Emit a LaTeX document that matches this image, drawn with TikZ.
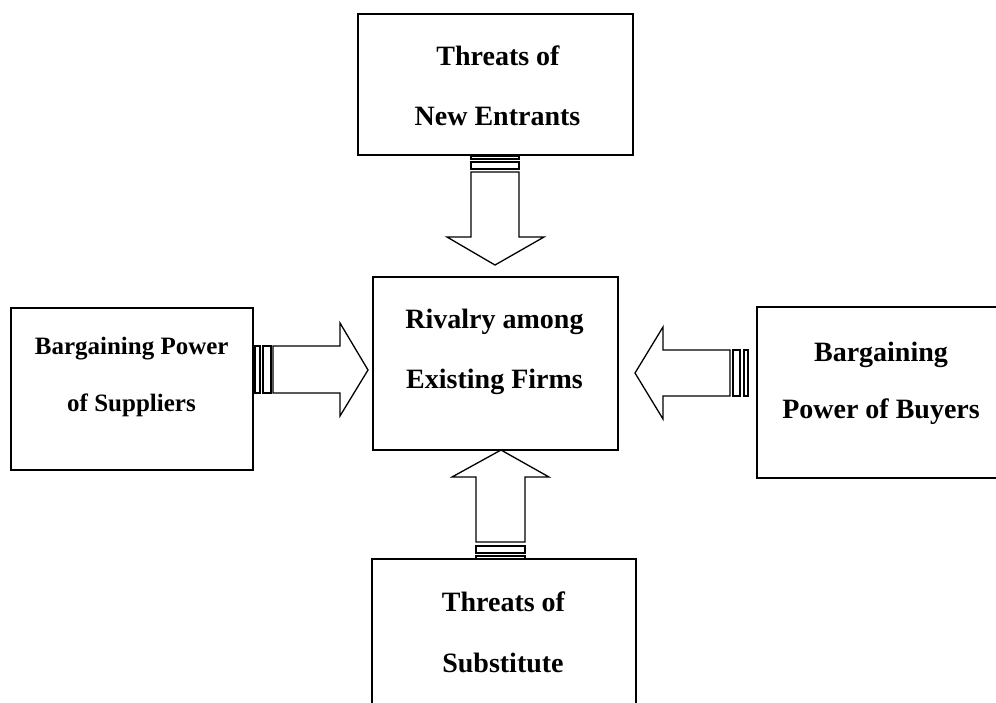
\documentclass[tikz,border=0pt]{standalone}
\usepackage{fontspec}
\setmainfont{Liberation Serif}
\begin{document}
\begin{tikzpicture}[x=1pt,y=-1pt,
  box/.style={draw, line width=1.8pt, inner sep=0pt, outer sep=0pt},
  blockarrow/.style={draw, line width=1.3pt, fill=white, line join=miter},
  lbl/.style={font=\bfseries\fontsize{28}{28}\selectfont, inner sep=0pt, anchor=base},
  lblsmall/.style={font=\bfseries\fontsize{25}{25}\selectfont, inner sep=0pt, anchor=base}]
\useasboundingbox (0,0) rectangle (996,702);
\fill[white] (0,0) rectangle (996,702);
% boxes
\node[box, minimum width=275pt, minimum height=141pt, anchor=north west] (top) at (358,14) {};
\node[box, minimum width=245pt, minimum height=173pt, anchor=north west] (mid) at (373,277) {};
\node[box, minimum width=242pt, minimum height=162pt, anchor=north west] (left) at (11,308) {};
\node[box, minimum width=250pt, minimum height=171pt, anchor=north west] (right) at (757,307) {};
\node[box, minimum width=264pt, minimum height=150pt, anchor=north west] (bottom) at (372,559) {};
% texts
\node[lbl] (t1) at (498,65) {Threats of};
\node[lbl] (t2) at (497.5,125) {New Entrants};
\node[lbl] (m1) at (494.5,328) {Rivalry among};
\node[lbl] (m2) at (494.5,388) {Existing Firms};
\node[lblsmall] (l1) at (131.7,354) {Bargaining Power};
\node[lblsmall] (l2) at (131.5,411) {of Suppliers};
\node[lbl] (r1) at (881,361) {Bargaining};
\node[lbl] (r2) at (881,418) {Power of Buyers};
\node[lbl] (b1) at (503.5,611) {Threats of};
\node[lbl] (b2) at (503,672) {Substitute};
% top arrow (down)
\draw[blockarrow] (471,172) -- (471,237) -- (447,237) -- (495,265) -- (544,237) -- (519,237) -- (519,172) -- cycle;
\draw[blockarrow] (471,162) rectangle (519,169);
\draw[blockarrow] (471,156) rectangle (519,159);
% bottom arrow (up)
\draw[blockarrow] (476,542) -- (476,477) -- (452,477) -- (501,450) -- (549,477) -- (525,477) -- (525,542) -- cycle;
\draw[blockarrow] (476,546) rectangle (525,553);
\draw[blockarrow] (476,556) rectangle (525,559);
% left arrow (right-pointing)
\draw[blockarrow] (273,346) -- (340,346) -- (340,323) -- (368,370) -- (340,416) -- (340,393) -- (273,393) -- cycle;
\draw[blockarrow] (263,346) rectangle (271,393);
\draw[blockarrow] (255,346) rectangle (260,393);
% right arrow (left-pointing)
\draw[blockarrow] (730,350) -- (663,350) -- (663,327) -- (635,373) -- (663,419) -- (663,396) -- (730,396) -- cycle;
\draw[blockarrow] (733,350) rectangle (740,396);
\draw[blockarrow] (744,350) rectangle (748,396);
\end{tikzpicture}
\end{document}
